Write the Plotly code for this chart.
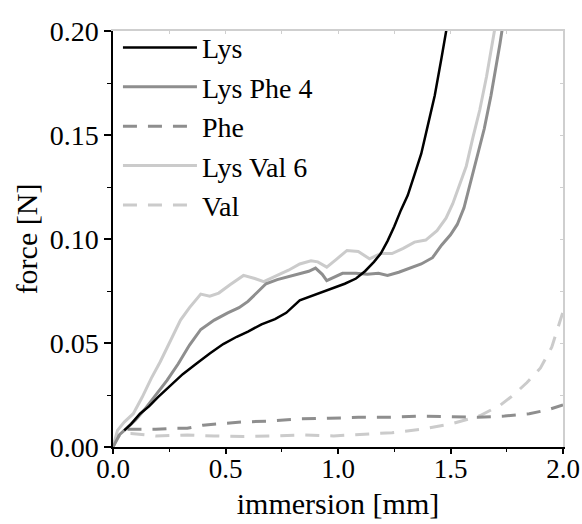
import plotly.graph_objects as go

# ---- data ----
lys_x = [0.05, 0.08, 0.12, 0.16, 0.20, 0.25, 0.31, 0.37, 0.43, 0.49, 0.55, 0.60, 0.66, 0.72, 0.77,
         0.83, 0.88, 0.93, 0.98, 1.03, 1.08, 1.12, 1.16, 1.19, 1.22, 1.25, 1.28, 1.31, 1.34, 1.37,
         1.40, 1.43, 1.46, 1.48, 1.50]
lys_y = [0.008, 0.011, 0.016, 0.0195, 0.024, 0.029, 0.035, 0.040, 0.045, 0.0495, 0.053, 0.0555,
         0.059, 0.0615, 0.0645, 0.0705, 0.0725, 0.0745, 0.0765, 0.0785, 0.081, 0.0845, 0.089,
         0.093, 0.099, 0.106, 0.114, 0.121, 0.131, 0.141, 0.155, 0.169, 0.187, 0.200, 0.212]

lysphe_x = [0.0, 0.03, 0.06, 0.10, 0.14, 0.19, 0.24, 0.29, 0.34, 0.39, 0.45, 0.51, 0.56, 0.60,
            0.64, 0.68, 0.73, 0.78, 0.83, 0.87, 0.90, 0.93, 0.95, 0.98, 1.02, 1.08, 1.13, 1.18,
            1.22, 1.27, 1.32, 1.37, 1.42, 1.46, 1.50, 1.53, 1.56, 1.59, 1.62, 1.65, 1.68, 1.70,
            1.72, 1.74]
lysphe_y = [0.0, 0.006, 0.009, 0.013, 0.018, 0.025, 0.032, 0.040, 0.049, 0.0565, 0.061, 0.0645,
            0.067, 0.070, 0.0745, 0.0785, 0.0805, 0.082, 0.0835, 0.0845, 0.086, 0.083, 0.080,
            0.0815, 0.0835, 0.0835, 0.083, 0.0835, 0.0825, 0.084, 0.086, 0.088, 0.091, 0.097,
            0.102, 0.107, 0.115, 0.128, 0.140, 0.153, 0.169, 0.181, 0.194, 0.208]

phe_x = [0.0, 0.02, 0.05, 0.10, 0.19, 0.27, 0.33, 0.40, 0.45, 0.57, 0.70, 0.83, 0.96, 1.09, 1.22,
         1.35, 1.48, 1.62, 1.74, 1.85, 1.93, 2.0]
phe_y = [0.0, 0.006, 0.0085, 0.0085, 0.0085, 0.009, 0.009, 0.0105, 0.011, 0.012, 0.0125, 0.0135,
         0.0138, 0.0143, 0.0143, 0.0148, 0.0146, 0.0143, 0.0149, 0.016, 0.0178, 0.0202]

lysval_x = [0.0, 0.02, 0.05, 0.09, 0.13, 0.17, 0.21, 0.25, 0.30, 0.34, 0.39, 0.43, 0.47, 0.52,
            0.58, 0.63, 0.67, 0.72, 0.78, 0.83, 0.88, 0.91, 0.95, 0.99, 1.04, 1.09, 1.14, 1.19,
            1.24, 1.29, 1.34, 1.39, 1.44, 1.48, 1.51, 1.54, 1.57, 1.60, 1.63, 1.66, 1.68, 1.70]
lysval_y = [0.0, 0.008, 0.012, 0.016, 0.024, 0.033, 0.041, 0.050, 0.061, 0.067, 0.0735, 0.0725,
            0.074, 0.078, 0.0825, 0.081, 0.0795, 0.082, 0.085, 0.088, 0.0895, 0.089, 0.0865,
            0.090, 0.0945, 0.094, 0.0905, 0.093, 0.093, 0.0955, 0.0985, 0.0995, 0.104, 0.110,
            0.117, 0.126, 0.135, 0.149, 0.162, 0.178, 0.190, 0.203]

val_x = [0.0, 0.02, 0.05, 0.08, 0.19, 0.33, 0.45, 0.58, 0.72, 0.85, 0.98, 1.11, 1.24, 1.37, 1.50,
         1.63, 1.72, 1.78, 1.84, 1.90, 1.95, 2.0]
val_y = [0.0, 0.005, 0.0065, 0.0065, 0.0053, 0.0058, 0.0053, 0.005, 0.0053, 0.0058, 0.0053,
         0.006, 0.0069, 0.0085, 0.011, 0.015, 0.020, 0.025, 0.031, 0.038, 0.048, 0.065]

x_ticks = [0.0, 0.5, 1.0, 1.5, 2.0]
y_ticks = [0.00, 0.05, 0.10, 0.15, 0.20]

FONT = "Liberation Serif, Times New Roman, serif"
DARK = "#8e8e8e"
LIGHT = "#cbcbcb"

fig = go.Figure()
# draw order: faint ones first, Lys on top; legend order via legendrank
fig.add_trace(go.Scatter(x=val_x, y=val_y, name="Val", mode="lines", legendrank=5,
                         line=dict(color=LIGHT, width=3, dash="14px,11px")))
fig.add_trace(go.Scatter(x=phe_x, y=phe_y, name="Phe", mode="lines", legendrank=3,
                         line=dict(color=DARK, width=3, dash="14px,11px")))
fig.add_trace(go.Scatter(x=lysval_x, y=lysval_y, name="Lys Val 6", mode="lines", legendrank=4,
                         line=dict(color=LIGHT, width=3)))
fig.add_trace(go.Scatter(x=lysphe_x, y=lysphe_y, name="Lys Phe 4", mode="lines", legendrank=2,
                         line=dict(color=DARK, width=3)))
fig.add_trace(go.Scatter(x=lys_x, y=lys_y, name="Lys", mode="lines", legendrank=1,
                         line=dict(color="black", width=2.5)))

fig.update_layout(
    width=582, height=524,
    margin=dict(l=113, r=19, t=31, b=77, autoexpand=False),
    paper_bgcolor="white", plot_bgcolor="white",
    font=dict(family=FONT, size=28, color="black"),
    showlegend=True,
    legend=dict(x=0.011, y=1.02, xanchor="left", yanchor="top", bgcolor="rgba(0,0,0,0)",
                font=dict(family=FONT, size=28), itemwidth=74, tracegroupgap=0,
                traceorder="normal"),
    xaxis=dict(range=[0, 2], tickvals=x_ticks, ticktext=[f"{v:.1f}" for v in x_ticks],
               automargin=False, tickfont=dict(family=FONT, size=27), ticklabelstandoff=-8,
               showgrid=False, zeroline=False, showline=True, linecolor="black", linewidth=1.5,
               ticks="outside", ticklen=5, tickwidth=1.5, tickcolor="black",
               minor=dict(dtick=0.25, ticks="outside", ticklen=3, tickcolor="black", tickwidth=1.2),
               title=dict(text="immersion [mm]", font=dict(family=FONT, size=30), standoff=10)),
    yaxis=dict(range=[0, 0.2], tickvals=y_ticks, ticktext=[f"{v:.2f}" for v in y_ticks],
               automargin=False, tickfont=dict(family=FONT, size=28),
               showgrid=False, zeroline=False, showline=True, linecolor="black", linewidth=1.5,
               ticks="outside", ticklen=7, tickwidth=1.5, tickcolor="black",
               minor=dict(dtick=0.025, ticks="outside", ticklen=4, tickcolor="black", tickwidth=1.2),
               title=dict(text="force [N]", font=dict(family=FONT, size=30), standoff=3)),
    xaxis2=dict(range=[0, 2], overlaying="x", side="top", showline=True, linecolor="#cfcfcf",
                automargin=False,
                linewidth=1.5, showgrid=False, zeroline=False, showticklabels=False,
                ticks="inside", ticklen=3, tickcolor="#cfcfcf", dtick=0.25),
    yaxis2=dict(range=[0, 0.2], overlaying="y", side="right", showline=True, linecolor="#cfcfcf",
                automargin=False,
                linewidth=1.5, showgrid=False, zeroline=False, showticklabels=False,
                ticks="inside", ticklen=3, tickcolor="#cfcfcf", dtick=0.025),
)
# invisible helper trace so the mirror axes are rendered
fig.add_trace(go.Scatter(x=[0, 2], y=[0, 0.2], xaxis="x2", yaxis="y2", mode="lines",
                         line=dict(width=0), hoverinfo="skip", showlegend=False))

fig.write_html("out.html", config={"displayModeBar": False},
               post_script="document.body.style.margin='0';document.body.style.padding='0';")
